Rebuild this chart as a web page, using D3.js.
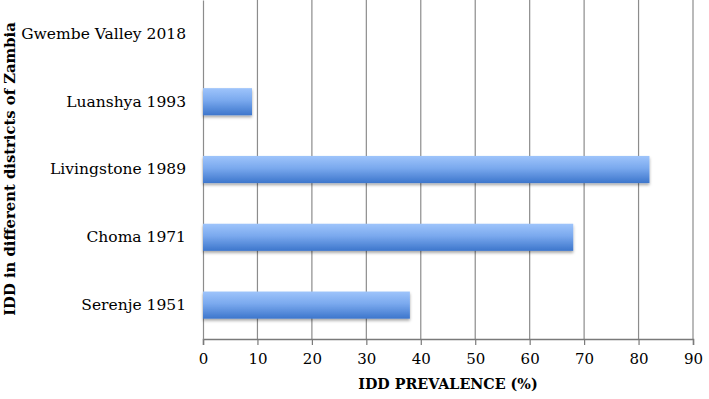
<!DOCTYPE html>
<html>
<head>
<meta charset="utf-8">
<script src="https://cdn.jsdelivr.net/npm/d3@7"></script>
<style>
  body { margin: 0; background: #fff; }
  text { font-family: "DejaVu Serif", "Liberation Serif", serif; fill: #000; }
</style>
</head>
<body>
<div id="chart"></div>
<script>
var districts = ["Gwembe Valley 2018", "Luanshya 1993", "Livingstone 1989", "Choma 1971", "Serenje 1951"];
var prevalence = [0, 9, 82, 68, 38];
var xTicks = [0, 10, 20, 30, 40, 50, 60, 70, 80, 90];

function renderChart(){
    var outerWidth = 709, outerHeight = 399;
    var margin = {top: 0, right: 16, bottom: 60, left: 203};
    var width = outerWidth - margin.left - margin.right,
        height = outerHeight - margin.top - margin.bottom;

    var data = districts.map(function(d, i) { return {name: d, value: prevalence[i]}; });

    var x = d3.scaleLinear()
        .domain([0, 90])
        .range([0, width]);

    var y = d3.scaleBand()
        .domain(districts)
        .range([0, height])
        .paddingInner(0.6)
        .paddingOuter(0.3);

    var svg = d3.select("#chart").append("svg")
        .attr("width", outerWidth)
        .attr("height", outerHeight);

    var defs = svg.append("defs");
    var grad = defs.append("linearGradient")
        .attr("id", "barGrad")
        .attr("x1", 0).attr("y1", 0).attr("x2", 0).attr("y2", 1);
    grad.append("stop").attr("offset", "0%").attr("stop-color", "#9ec4fb");
    grad.append("stop").attr("offset", "45%").attr("stop-color", "#7aa9ee");
    grad.append("stop").attr("offset", "100%").attr("stop-color", "#3d76cc");

    var shadow = defs.append("filter").attr("id", "shadow")
        .attr("x", "-5%").attr("y", "-20%").attr("width", "110%").attr("height", "160%");
    shadow.append("feDropShadow")
        .attr("dx", 0).attr("dy", 2).attr("stdDeviation", 1.5)
        .attr("flood-color", "#000").attr("flood-opacity", 0.35);

    var g = svg.append("g")
        .attr("transform", "translate(" + margin.left + "," + margin.top + ")");

    // vertical gridlines
    g.selectAll(".grid")
        .data(xTicks.slice(1))
        .enter().append("line")
        .attr("class", "grid")
        .attr("x1", function(d) { return x(d); })
        .attr("x2", function(d) { return x(d); })
        .attr("y1", 0)
        .attr("y2", height)
        .style("stroke", "#8c8c8c")
        .style("stroke-width", 1.2);

    var xAxis = d3.axisBottom(x)
        .tickValues(xTicks)
        .tickSize(6)
        .tickPadding(8);

    var xg = g.append("g")
        .attr("class", "x axis")
        .attr("transform", "translate(0," + height + ")")
        .call(xAxis);
    xg.select(".domain").style("stroke", "#7a7a7a").style("stroke-width", 1.5);
    xg.selectAll(".tick line").style("stroke", "#7a7a7a").style("stroke-width", 1.2);
    xg.selectAll(".tick text")
        .style("font-family", "DejaVu Serif, serif")
        .style("font-size", "15px");

    var yAxis = d3.axisLeft(y)
        .tickSize(0)
        .tickPadding(17);

    var yg = g.append("g")
        .attr("class", "y axis")
        .call(yAxis);
    yg.select(".domain").style("stroke", "#8c8c8c").style("stroke-width", 1.2);
    yg.selectAll(".tick text")
        .style("font-family", "DejaVu Serif, serif")
        .style("font-size", "15.5px");

    g.selectAll(".bar")
        .data(data.filter(function(d) { return d.value > 0; }))
        .enter().append("rect")
        .attr("class", "bar")
        .attr("x", 0)
        .attr("y", function(d) { return y(d.name); })
        .attr("width", function(d) { return x(d.value); })
        .attr("height", y.bandwidth())
        .style("fill", "url(#barGrad)")
        .attr("filter", "url(#shadow)");

    g.append("text")
        .attr("class", "x label")
        .attr("text-anchor", "middle")
        .attr("x", 448 - margin.left)
        .attr("y", height + 50)
        .style("font-size", "14.3px")
        .style("font-weight", "bold")
        .text("IDD PREVALENCE (%)");

    g.append("text")
        .attr("class", "y label")
        .attr("text-anchor", "middle")
        .attr("transform", "rotate(-90)")
        .attr("x", -169)
        .attr("y", -margin.left + 15)
        .style("font-size", "14.8px")
        .style("font-weight", "bold")
        .text("IDD in different districts of Zambia");
}

renderChart()
</script>
</body>
</html>
